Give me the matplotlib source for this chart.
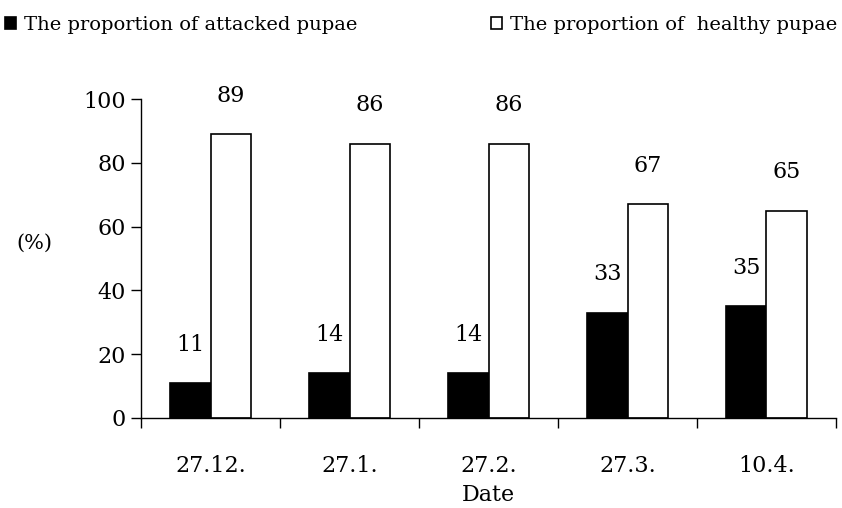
import matplotlib
matplotlib.use("Agg")
import matplotlib.pyplot as plt
import numpy as np

categories = ["27.12.", "27.1.", "27.2.", "27.3.", "10.4."]
attacked = [11, 14, 14, 33, 35]
healthy = [89, 86, 86, 67, 65]
series_names = ["The proportion of attacked pupae", "The proportion of  healthy pupae"]

plt.rcParams['font.family'] = ['DejaVu Serif']

fig = plt.figure(figsize=(8.42, 5.08), dpi=100)
ax = fig.add_axes([141/842, 1-418/508, (836-141)/842, (418-99)/508])

x = np.arange(len(categories))
w = 0.29
b1 = ax.bar(x - w/2, attacked, w, color='black', edgecolor='black', linewidth=1.2)
b2 = ax.bar(x + w/2, healthy, w, color='white', edgecolor='black', linewidth=1.2)

for xi, v in zip(x, attacked):
    ax.text(xi - w/2, v + 12, str(v), ha='center', va='center', fontsize=16)
for xi, v in zip(x, healthy):
    ax.text(xi + w/2, v + 12, str(v), ha='center', va='center', fontsize=16)

ax.set_xlim(-0.5, len(categories) - 0.5)
ax.set_ylim(0, 100)
ax.set_yticks([0, 20, 40, 60, 80, 100])
ax.set_xticks(x)
ax.set_xticklabels(categories)
ax.set_xticks(np.arange(-0.5, len(categories)), minor=True)
ax.tick_params(axis='x', which='major', length=0, pad=27, labelsize=16)
ax.tick_params(axis='x', which='minor', length=7, width=1)
ax.tick_params(axis='y', length=7, width=1, labelsize=16, pad=4)
for s in ['top', 'right']:
    ax.spines[s].set_visible(False)
for s in ['left', 'bottom']:
    ax.spines[s].set_linewidth(1)
ax.set_xlabel("Date", fontsize=16, labelpad=5)
fig.text(34/842, 1-243/508, "(%)", ha='center', va='center', fontsize=15)

fig.legend([b1, b2], series_names, loc='upper left', bbox_to_anchor=(-0.012, 1.0),
           ncol=2, frameon=False, fontsize=14, handlelength=0.55, handleheight=0.55,
           handletextpad=0.4, columnspacing=6.9, borderaxespad=0.4)

fig.savefig("out.png", dpi=100)
